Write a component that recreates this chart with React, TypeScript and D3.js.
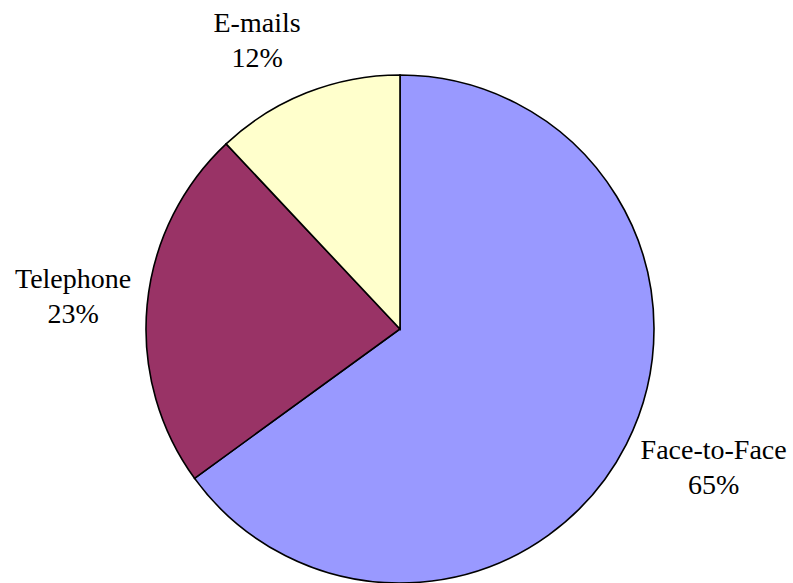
import React, { useRef, useEffect } from 'react';
import * as d3 from 'd3';

const categories = ['Face-to-Face', 'Telephone', 'E-mails'];
const values = [65, 23, 12];
const colors = ['#9999FF', '#993366', '#FFFFCC'];

const width = 793;
const height = 583;

function pieChart(svgEl: SVGSVGElement) {
  const svg = d3.select(svgEl);
  svg.selectAll('*').remove();

  const cx = 400;
  const cy = 329;
  const r = 254;

  const pie = d3.pie<number>().sort(null).value(d => d);
  const arcs = pie(values);
  const arc = d3.arc<d3.PieArcDatum<number>>().innerRadius(0).outerRadius(r);

  const g = svg.append('g').attr('transform', `translate(${cx},${cy})`);

  g.selectAll('path')
    .data(arcs)
    .join('path')
    .attr('d', arc)
    .attr('fill', (d, i) => colors[i])
    .attr('stroke', '#000')
    .attr('stroke-width', 1.6)
    .attr('stroke-linejoin', 'miter');

  // labels: a point on the box edge (picked by the mid angle) sits just outside the pie
  const total = d3.sum(values);
  const gap = r + 16;
  const lineGap = 35;
  const boxH = 61;
  const kx = 2.8;
  const ky = 2.0;
  const clamp = (v: number) => Math.max(-1, Math.min(1, v));

  arcs.forEach((d, i) => {
    const lbl = g.append('text')
      .attr('font-family', "'Liberation Serif'")
      .attr('font-size', 28)
      .attr('fill', '#000')
      .attr('text-anchor', 'middle');
    const t1 = lbl.append('tspan').attr('x', 0).attr('y', 0).text(categories[i]);
    const t2 = lbl.append('tspan').attr('x', 0).attr('y', lineGap)
      .text(`${Math.round((values[i] / total) * 100)}%`);

    const w = Math.max(
      (t1.node() as SVGTextContentElement).getComputedTextLength(),
      (t2.node() as SVGTextContentElement).getComputedTextLength()
    );
    const a = (d.startAngle + d.endAngle) / 2;
    const ux = Math.sin(a);
    const uy = -Math.cos(a);
    const fy = Math.sign(uy) * Math.pow(Math.abs(clamp(ky * uy)), 3);
    const bx = gap * ux + clamp(kx * ux) * w / 2;
    const by = gap * uy + fy * boxH / 2;
    lbl.attr('transform', `translate(${bx},${by - boxH / 2 + 15})`);
  });
}

export default function App() {
  const ref = useRef<SVGSVGElement>(null);

  useEffect(() => {
    if (ref.current) pieChart(ref.current);
  }, []);

  return (
    <svg
      ref={ref}
      width={width}
      height={height}
      style={{ position: 'absolute', left: 0, top: 0, background: '#fff' }}
    />
  );
}
